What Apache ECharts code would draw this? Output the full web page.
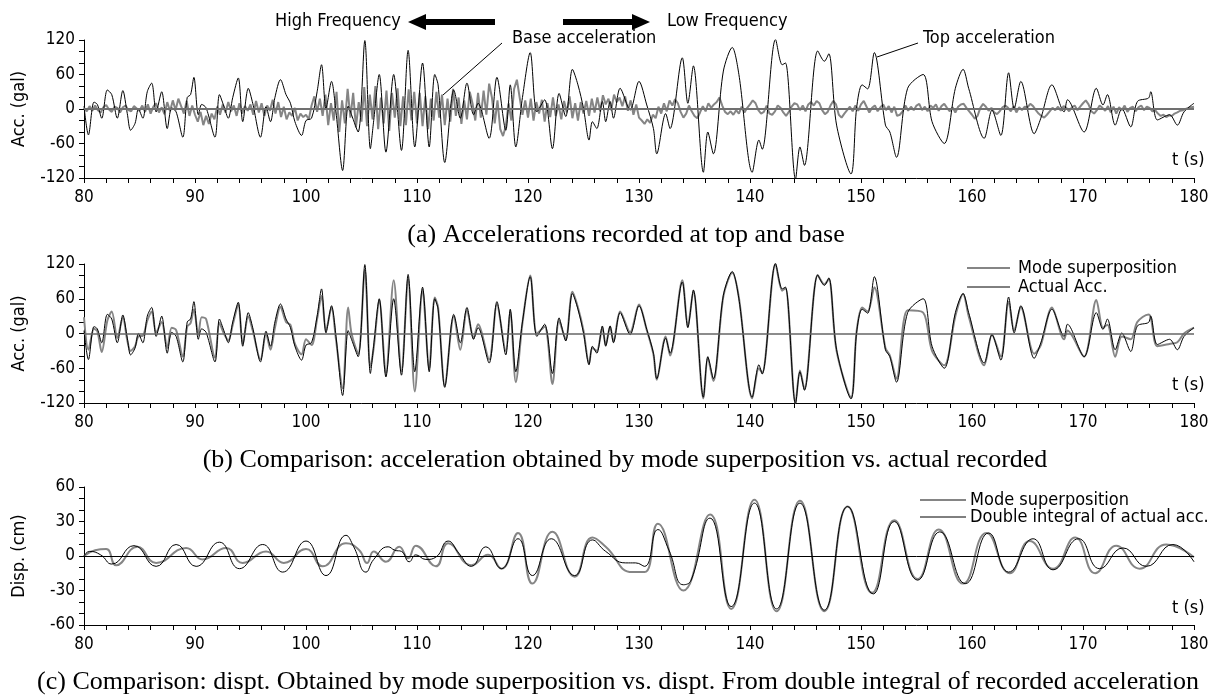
<!DOCTYPE html>
<html>
<head>
<meta charset="utf-8">
<title>Top and base accelerations, mode superposition comparison</title>
<script src="https://cdn.jsdelivr.net/npm/echarts@6/dist/echarts.min.js"></script>
<style>
  html, body { margin: 0; padding: 0; background: #fff; }
  #chart { width: 1213px; height: 699px; }
</style>
</head>
<body>
<div id="chart"></div>
<script>
// base acceleration (gal), sampled every 0.25 s from t = 80 s
const baseStart = 80
const baseStep = 0.25
const baseAcc = [
  2, -4, 5, -3, 6, -2, -6, 3, 7, -1, -5, 4, 2, -6, 3, 6, -2, -4, 5, 1,
  -3, 6, -5, 8, -8, 4, 10, -6, 3, -9, 12, -4, 15, -2, 18, 5, -8, 14, -12, 6,
  -10, -22, -5, -28, -12, -26, -8, -18, 4, -10, 8, -6, 12, -4, 6, -12, 10, -8, 5, -3,
  8, -10, 14, -6, 10, -12, 6, -3, 16, -8, 12, -14, 4, -18, -6, -12, 2, -20, -8, -14,
  -10, -18, 6, 22, -5, 18, -12, 25, -28, 10, -20, 30, -40, 15, -25, 35, -15, 28, -32, 12,
  -22, 38, -30, 25, -18, 40, -35, 20, -25, 32, -38, 28, -15, 36, -30, 22, -28, 34, -20, 30,
  -25, 28, -30, 22, -35, 18, -20, 30, -15, 25, -28, 18, -22, 35, -12, 20, -26, 15, -18, 30,
  10, -20, 28, -15, 32, -10, 44, 20, -25, 15, -35, -47, -30, 10, -20, 35, 51, 20, -10, 15,
  -15, 18, -20, 12, -8, 16, -22, 10, -14, 20, -12, 8, -18, 14, -6, 22, -16, 10, -20, 12,
  -8, 14, -12, 18, -6, 20, -4, 24, 8, 18, -2, 25, 12, 20, 5, 22, -3, 15, -10, 8,
  -15, -20, -26, -18, -24, -10, -16, 4, -8, 10, -4, 15, 6, 17, 10, -5, -15, -8, 6, -4,
  -12, -16, -6, 5, -4, 10, 2, 8, 12, 20, 6, -5, -9, -4, -10, -2, -8, 4, -6, 2,
  8, 15, 10, -2, -8, -5, 6, -8, -10, -4, 6, 2, -6, -12, -5, 4, 10, 8, -2, 6,
  -4, 8, 12, 6, 14, 10, -2, -9, -5, 6, 14, 8, -10, -15, -8, -2, 4, -4, 6, -3,
  8, 14, 4, -6, 2, 6, -4, 3, 8, -2, 5, -6, 4, -12, -10, -4, 6, -3, 4, -2,
  6, 9, -2, 4, -4, 6, 2, 8, -3, 5, 9, 2, -4, 3, -6, 4, 8, 9, 2, -4,
  -10, -17, -12, 2, 9, 4, -3, 2, -6, -9, -4, 3, 6, 2, -4, 5, -6, 3, -2, 4,
  3, 9, 5, -2, -8, -12, -15, -10, -4, 2, -2, 4, -3, 5, 2, -4, 3, 6, -2, 4,
  10, 15, 8, -4, -8, -2, 6, 2, -3, 5, -6, 4, -8, 3, -2, 6, -5, 2, 4, -4,
  3, 6, -2, 4, 2, -4, -2, -8, -12, -10, -14, -11, -12, -8, -6, -3, -2, 0, 2, 3, 4
]

// top (actual) acceleration and mode superposition acceleration, at turning points
const accTime = [
  80.0, 80.4, 80.9, 81.2, 81.6, 82.1, 82.5, 83.0, 83.5, 83.9, 84.2, 84.6, 84.9, 85.3, 85.7, 86.1, 86.5, 87.0, 87.5, 87.9,
  88.3, 88.9, 89.3, 89.6, 89.9, 90.3, 90.6, 91.0, 91.8, 92.2, 92.6, 93.0, 93.4, 93.9, 94.3, 94.8, 95.2, 95.9, 96.4, 96.8,
  97.2, 97.7, 98.2, 98.6, 99.0, 99.6, 100.0, 100.5, 101.0, 101.4, 101.8, 102.3, 102.7, 103.3, 103.8, 104.1, 104.7, 105.3, 105.8, 106.1,
  106.6, 107.2, 107.9, 108.6, 109.2, 109.8, 110.5, 111.1, 111.6, 111.9, 112.5, 113.1, 113.3, 113.9, 114.5, 115.1, 115.5, 116.5, 117.2, 118.0,
  118.4, 118.9, 119.5, 120.2, 120.8, 121.5, 122.2, 122.8, 123.4, 124.0, 124.5, 125.0, 125.5, 125.8, 126.2, 126.7, 127.0, 127.4, 127.7, 128.3,
  129.2, 130.0, 130.7, 131.3, 131.6, 132.4, 132.8, 133.9, 134.4, 134.9, 135.8, 136.2, 136.7, 137.6, 138.4, 139.0, 140.2, 140.8, 141.1, 142.3,
  142.9, 143.2, 144.1, 144.5, 144.9, 146.1, 146.7, 147.1, 147.8, 149.1, 149.6, 150.1, 150.6, 151.2, 152.2, 152.6, 153.2, 154.2, 155.6, 156.4,
  157.5, 158.5, 159.2, 159.7, 161.1, 161.8, 162.6, 163.3, 163.8, 164.4, 165.6, 166.2, 167.2, 168.3, 168.6, 170.1, 171.2, 171.8, 172.2, 172.9,
  173.5, 174.3, 174.9, 175.9, 176.1, 176.7, 177.8, 178.5, 179.1, 180.0
]
const topAcc = [
  5, -45, 12, 8, -16, 33, 25, -16, 32, -8, -37, -25, 0, -16, 30, 45, -5, 30, -34, 2,
  -5, -49, 20, 25, 55, -10, 8, 2, -49, 25, 5, -16, 20, 54, -22, 36, 10, -49, 4, -22,
  20, 51, 25, 10, -22, -46, -20, -16, 30, 77, 1, 48, -5, -107, 5, -10, -40, 119, -69, -20,
  60, -75, 60, -72, 102, -66, 80, -66, 60, 42, -93, 16, 33, -16, 45, -10, 10, -51, 55, -37,
  42, -66, 20, 98, -5, 16, -69, 27, -13, 69, 42, 1, -54, -22, -34, 13, -22, 13, -16, 36,
  -2, 48, 7, -34, -78, -8, -34, 89, 10, 75, -110, -40, -78, 66, 107, 60, -110, -54, -70, 121,
  77, 80, -122, -66, -98, 101, 83, 96, -28, -113, 1, 42, 35, 98, -28, -40, -84, 36, 60, -22,
  -60, 36, 69, 36, -51, -2, -46, 63, 1, 48, -43, -16, 42, -5, 16, -40, 36, 7, 25, -28,
  1, -31, 13, 19, 30, -19, -10, -28, -5, 10
]
const modeAcc = [
  28, -28, 8, 4, -32, 22, 38, -8, 28, -12, -30, -22, -5, -4, 22, 38, 2, 20, -25, 10,
  6, -40, 12, 18, 42, -2, 28, 25, -42, 18, 0, -12, 15, 50, -18, 30, 5, -45, 0, -28,
  10, 46, 20, 15, -18, -36, -10, -20, 25, 65, 5, 45, -10, -95, 45, 0, -35, 110, -58, -25,
  58, -70, 92, -65, 95, -100, 75, -60, 62, 45, -90, 12, 30, -28, 40, -8, 16, -45, 50, -30,
  38, -84, 18, 100, 0, 12, -87, 22, -10, 72, 45, 5, -52, -25, -30, 10, -20, 12, -14, 38,
  2, 50, 6, -36, -80, -5, -38, 92, 12, 74, -112, -42, -82, 64, 105, 62, -112, -60, -68, 120,
  74, 78, -120, -64, -96, 101, 85, 94, -30, -110, 3, 45, 38, 80, -25, -38, -78, 40, 36, -30,
  -55, 30, 68, 30, -55, -2, -40, 55, 5, 45, -35, -20, 45, -10, 5, -40, 58, 10, 15, -40,
  -5, -10, 20, 33, 28, -22, -18, -15, 0, 10
]

// displacement (cm) at turning points
const intDispTime = [
  80.0, 80.5, 81.5, 82.5, 84.5, 86.5, 88.3, 90.1, 92.2, 94.0, 96.1, 97.9, 100.0, 101.8, 103.6, 104.3, 105.4, 106.1, 107.4, 108.0,
  108.6, 109.3, 109.9, 110.8, 111.7, 112.8, 113.8, 114.9, 116.2, 117.6, 119.1, 120.4, 122.1, 124.2, 125.8, 127.0, 128.8, 129.7, 130.5, 131.7,
  132.7, 134.0, 134.7, 136.4, 138.3, 140.4, 142.4, 144.5, 146.7, 148.8, 151.1, 153.0, 155.1, 157.1, 159.4, 161.5, 163.3, 165.5, 167.3, 169.6,
  171.5, 173.6, 175.7, 178.1, 180.0
]
const intDisp = [
  0, 4, 1, -7, 9, -9, 10, -9, 12, -11, 10, -14, 13, -17, 18, 8, -14, -3, 8, 5,
  4, -5, 1, -3, -1, 13, 2, -9, 8, -11, 15, -17, 15, -17, 14, 4, -6, -6, -9, 23,
  5, -25, -21, 33, -44, 46, -46, 46, -47, 43, -33, 30, -21, 21, -24, 20, -14, 15, -12, 15,
  -11, 7, -9, 10, -5
]
const modeDispTime = [
  80.0, 81.0, 82.0, 82.9, 84.8, 86.5, 89.2, 90.7, 92.8, 94.3, 96.4, 98.0, 100.0, 101.5, 103.6, 104.8, 105.5, 106.1, 107.2, 108.4,
  109.2, 109.9, 111.7, 112.8, 114.9, 116.4, 117.6, 119.1, 120.4, 122.2, 124.2, 125.8, 127.0, 129.4, 130.5, 131.7, 134.0, 136.4, 138.3, 140.4,
  142.4, 144.5, 146.7, 148.8, 151.0, 153.0, 155.1, 157.0, 159.2, 161.3, 163.4, 165.2, 167.3, 169.3, 171.1, 173.0, 175.1, 177.5, 180.0
]
const modeDisp = [
  0, 5, 6, -8, 8, -6, 7, -3, 7, -6, 4, -6, 6, -9, 11, 5, -6, 4, -5, 8,
  -2, 9, -9, 11, -8, 1, -11, 20, -24, 21, -18, 16, 8, -14, -14, 28, -30, 36, -46, 49,
  -48, 48, -48, 43, -32, 31, -20, 23, -24, 20, -15, 13, -11, 16, -15, 9, -11, 10, -1
]

const FONT = "'Liberation Sans Narrow', 'DejaVu Sans Condensed', sans-serif"
const SERIF = "'Liberation Serif', 'DejaVu Serif', serif"

const zip = (xs, ys) => xs.map((x, i) => [x, ys[i]])
const baseData = baseAcc.map((v, i) => [baseStart + i * baseStep, v])

const gridTops = [40, 264, 487]
const gridHeights = [138, 139, 138]

function xAxisFor(i) {
  return {
    type: 'value',
    gridIndex: i,
    min: 80,
    max: 180,
    interval: 10,
    axisLine: { show: true, onZero: false, lineStyle: { color: '#000', width: 1 } },
    axisTick: { show: true, length: 5, lineStyle: { color: '#000' } },
    minorTick: { show: true, splitNumber: 5, length: 5, lineStyle: { color: '#000' } },
    splitLine: { show: false },
    axisLabel: { color: '#000', fontFamily: FONT, fontSize: 17, margin: 11 },
  }
}

function yAxisFor(i, lim, step, name) {
  return {
    type: 'value',
    gridIndex: i,
    min: -lim,
    max: lim,
    interval: step,
    name: name,
    nameLocation: 'middle',
    nameRotate: 90,
    nameGap: 56,
    nameTextStyle: { color: '#000', fontFamily: FONT, fontSize: 18 },
    axisLine: { show: true, lineStyle: { color: '#000', width: 1 } },
    axisTick: { show: true, length: 5, lineStyle: { color: '#000' } },
    minorTick: { show: true, splitNumber: 3, length: 5, lineStyle: { color: '#000' } },
    splitLine: { show: false },
    axisLabel: { color: '#000', fontFamily: FONT, fontSize: 17, margin: 9 },
  }
}

function zeroLine(color, width) {
  return {
    silent: true,
    symbol: 'none',
    label: { show: false },
    lineStyle: { color: color, width: width, type: 'solid' },
    data: [{ yAxis: 0 }],
  }
}

function txt(x, y, text, size, opts) {
  return Object.assign({
    type: 'text',
    x: x,
    y: y,
    style: {
      text: text,
      fill: '#000',
      font: size + 'px ' + FONT,
      textVerticalAlign: 'middle',
    },
  }, opts || {})
}

function caption(x, y, text) {
  return {
    type: 'text', x: x, y: y,
    style: { text: text, fill: '#000', font: '26px ' + SERIF, textAlign: 'center', textVerticalAlign: 'middle' },
  }
}

function legendLine(x1, x2, y, color, w) {
  return { type: 'line', shape: { x1: x1, y1: y, x2: x2, y2: y }, style: { stroke: color, lineWidth: w } }
}

const chart = echarts.init(document.getElementById('chart'), null, { renderer: 'canvas' })

const option = {
  animation: false,
  backgroundColor: '#fff',
  grid: gridTops.map((t, i) => ({ left: 84, right: 19, top: t, height: gridHeights[i] })),
  xAxis: [xAxisFor(0), xAxisFor(1), xAxisFor(2)],
  yAxis: [
    yAxisFor(0, 120, 60, 'Acc. (gal)'),
    yAxisFor(1, 120, 60, 'Acc. (gal)'),
    yAxisFor(2, 60, 30, 'Disp. (cm)'),
  ],
  series: [
    {
      name: 'Base acceleration', type: 'line', xAxisIndex: 0, yAxisIndex: 0,
      data: baseData, showSymbol: false, smooth: false,
      lineStyle: { color: '#858585', width: 2 },
      markLine: zeroLine('#707070', 2),
    },
    {
      name: 'Top acceleration', type: 'line', xAxisIndex: 0, yAxisIndex: 0,
      data: zip(accTime, topAcc), showSymbol: false, smooth: 0.3,
      lineStyle: { color: '#000', width: 1 },
    },
    {
      name: 'Mode superposition', type: 'line', xAxisIndex: 1, yAxisIndex: 1,
      data: zip(accTime, modeAcc), showSymbol: false, smooth: 0.3,
      lineStyle: { color: '#858585', width: 2 },
      markLine: zeroLine('#666', 1.5),
    },
    {
      name: 'Actual Acc.', type: 'line', xAxisIndex: 1, yAxisIndex: 1,
      data: zip(accTime, topAcc), showSymbol: false, smooth: 0.3,
      lineStyle: { color: '#000', width: 1 },
    },
    {
      name: 'Mode superposition disp', type: 'line', xAxisIndex: 2, yAxisIndex: 2,
      data: zip(modeDispTime, modeDisp), showSymbol: false, smooth: 0.5,
      lineStyle: { color: '#858585', width: 2 },
      markLine: zeroLine('#000', 1),
    },
    {
      name: 'Double integral of actual acc.', type: 'line', xAxisIndex: 2, yAxisIndex: 2,
      data: zip(intDispTime, intDisp), showSymbol: false, smooth: 0.5,
      lineStyle: { color: '#000', width: 1 },
    },
  ],
  graphic: [
    // panel (a) annotations
    txt(275, 21, 'High Frequency', 18),
    { type: 'polygon', shape: { points: [[408, 22], [426, 14], [426, 30]] }, style: { fill: '#000' } },
    { type: 'rect', shape: { x: 424, y: 19, width: 71, height: 6 }, style: { fill: '#000' } },
    { type: 'rect', shape: { x: 563, y: 19, width: 71, height: 6 }, style: { fill: '#000' } },
    { type: 'polygon', shape: { points: [[650, 22], [632, 14], [632, 30]] }, style: { fill: '#000' } },
    txt(667, 21, 'Low Frequency', 18),
    txt(512, 38, 'Base acceleration', 18),
    { type: 'line', shape: { x1: 502, y1: 43, x2: 443, y2: 95 }, style: { stroke: '#000', lineWidth: 1 } },
    txt(923, 38, 'Top acceleration', 18),
    { type: 'line', shape: { x1: 918, y1: 43, x2: 877, y2: 57 }, style: { stroke: '#000', lineWidth: 1 } },
    txt(1172, 160, 't (s)', 18),
    // panel (b) legend
    legendLine(967, 1010, 268, '#858585', 2),
    txt(1018, 268, 'Mode superposition', 18),
    legendLine(967, 1010, 287, '#000', 1),
    txt(1018, 287, 'Actual Acc.', 18),
    txt(1172, 385, 't (s)', 18),
    // panel (c) legend
    legendLine(920, 966, 500, '#858585', 2),
    txt(970, 500, 'Mode superposition', 18),
    legendLine(920, 966, 517, '#000', 1),
    txt(970, 517, 'Double integral of actual acc.', 18),
    txt(1172, 608, 't (s)', 18),
    // captions
    caption(626, 235, '(a) Accelerations recorded at top and base'),
    caption(625, 460, '(b) Comparison: acceleration obtained by mode superposition vs. actual recorded'),
    caption(618, 682, '(c) Comparison: dispt. Obtained by mode superposition vs. dispt. From double integral of recorded acceleration'),
  ],
}

chart.setOption(option)
</script>
</body>
</html>
